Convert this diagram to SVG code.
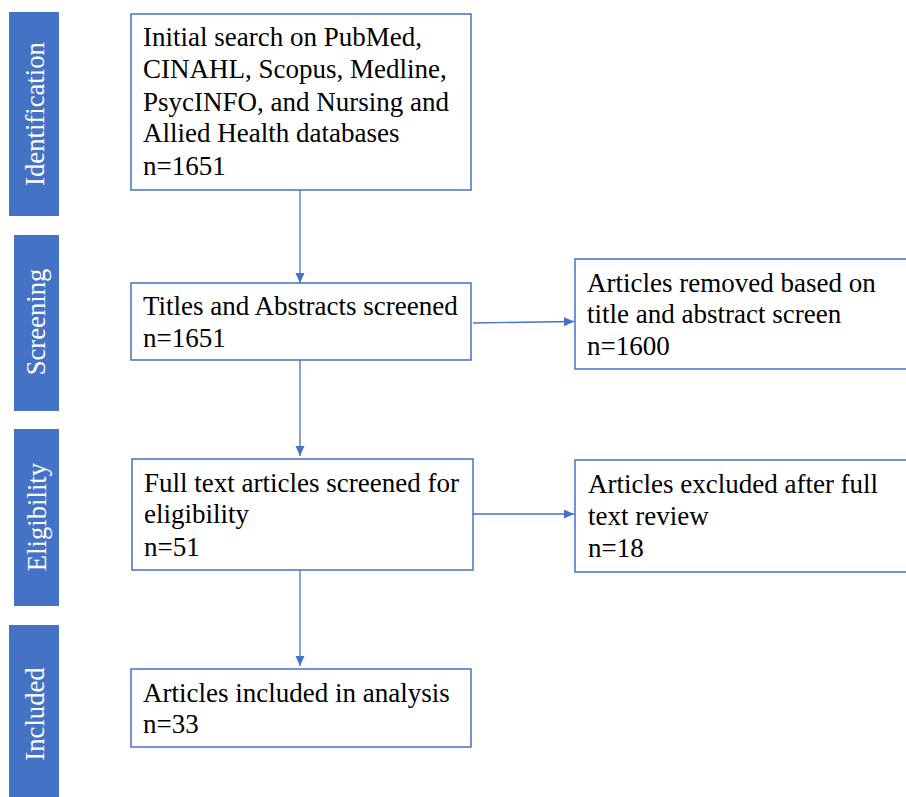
<svg xmlns="http://www.w3.org/2000/svg" width="906" height="797" viewBox="0 0 906 797">
<style>
.bar{fill:#4472C4}
.box{fill:#fff;stroke:#4472C4;stroke-width:1.5}
.t{font-family:'Liberation Serif','Times New Roman',serif;font-size:27px;fill:#000}
.lab{font-family:'Liberation Serif','Times New Roman',serif;font-size:26.7px;fill:#fff;text-anchor:middle}
.c{stroke:#4472C4;stroke-width:1.3;fill:none}
</style>
<defs>
<marker id="ah" markerUnits="userSpaceOnUse" markerWidth="10" markerHeight="10" refX="10" refY="4.5" orient="auto">
<path d="M0,0 L10,4.5 L0,9 z" fill="#4472C4"/>
</marker>
</defs>
<rect width="906" height="797" fill="#fff"/>
<g id="stage-identification">
<rect class="bar" x="9" y="12" width="50" height="204"/>
<text class="lab" transform="translate(44,114) rotate(-90)">Identification</text>
</g>
<g id="stage-screening">
<rect class="bar" x="14" y="235" width="45" height="176"/>
<text class="lab" transform="translate(45,322) rotate(-90)">Screening</text>
</g>
<g id="stage-eligibility">
<rect class="bar" x="14" y="429" width="45" height="177"/>
<text class="lab" transform="translate(46,517) rotate(-90)">Eligibility</text>
</g>
<g id="stage-included">
<rect class="bar" x="9" y="625" width="50" height="180"/>
<text class="lab" transform="translate(44,714) rotate(-90)">Included</text>
</g>
<g id="connectors">
<path class="c" d="M300,190 V283" marker-end="url(#ah)"/>
<path class="c" d="M300,360 V456" marker-end="url(#ah)"/>
<path class="c" d="M300,570 V666" marker-end="url(#ah)"/>
<path class="c" d="M473,323 L574,321.5" marker-end="url(#ah)"/>
<path class="c" d="M473,514 H574" marker-end="url(#ah)"/>
</g>
<g id="node-initial">
<rect class="box" x="131" y="14" width="340" height="176"/>
<text class="t" x="143" y="46">Initial search on PubMed,</text>
<text class="t" x="143" y="78">CINAHL, Scopus, Medline,</text>
<text class="t" x="143" y="111">PsycINFO, and Nursing and</text>
<text class="t" x="143" y="142">Allied Health databases</text>
<text class="t" x="143" y="175">n=1651</text>
</g>
<g id="node-titles">
<rect class="box" x="131" y="283" width="340" height="77"/>
<text class="t" x="143" y="315">Titles and Abstracts screened</text>
<text class="t" x="143" y="347">n=1651</text>
</g>
<g id="node-fulltext">
<rect class="box" x="132" y="459" width="341" height="111"/>
<text class="t" x="144" y="492">Full text articles screened for</text>
<text class="t" x="144" y="523">eligibility</text>
<text class="t" x="144" y="556">n=51</text>
</g>
<g id="node-included">
<rect class="box" x="131" y="669" width="340" height="78"/>
<text class="t" x="143" y="702">Articles included in analysis</text>
<text class="t" x="143" y="733">n=33</text>
</g>
<g id="node-removed">
<rect class="box" x="575" y="259" width="340" height="110"/>
<text class="t" x="587" y="292">Articles removed based on</text>
<text class="t" x="587" y="323">title and abstract screen</text>
<text class="t" x="587" y="355">n=1600</text>
</g>
<g id="node-excluded">
<rect class="box" x="575" y="460" width="340" height="112"/>
<text class="t" x="588" y="493">Articles excluded after full</text>
<text class="t" x="588" y="525">text review</text>
<text class="t" x="588" y="557">n=18</text>
</g>
</svg>
